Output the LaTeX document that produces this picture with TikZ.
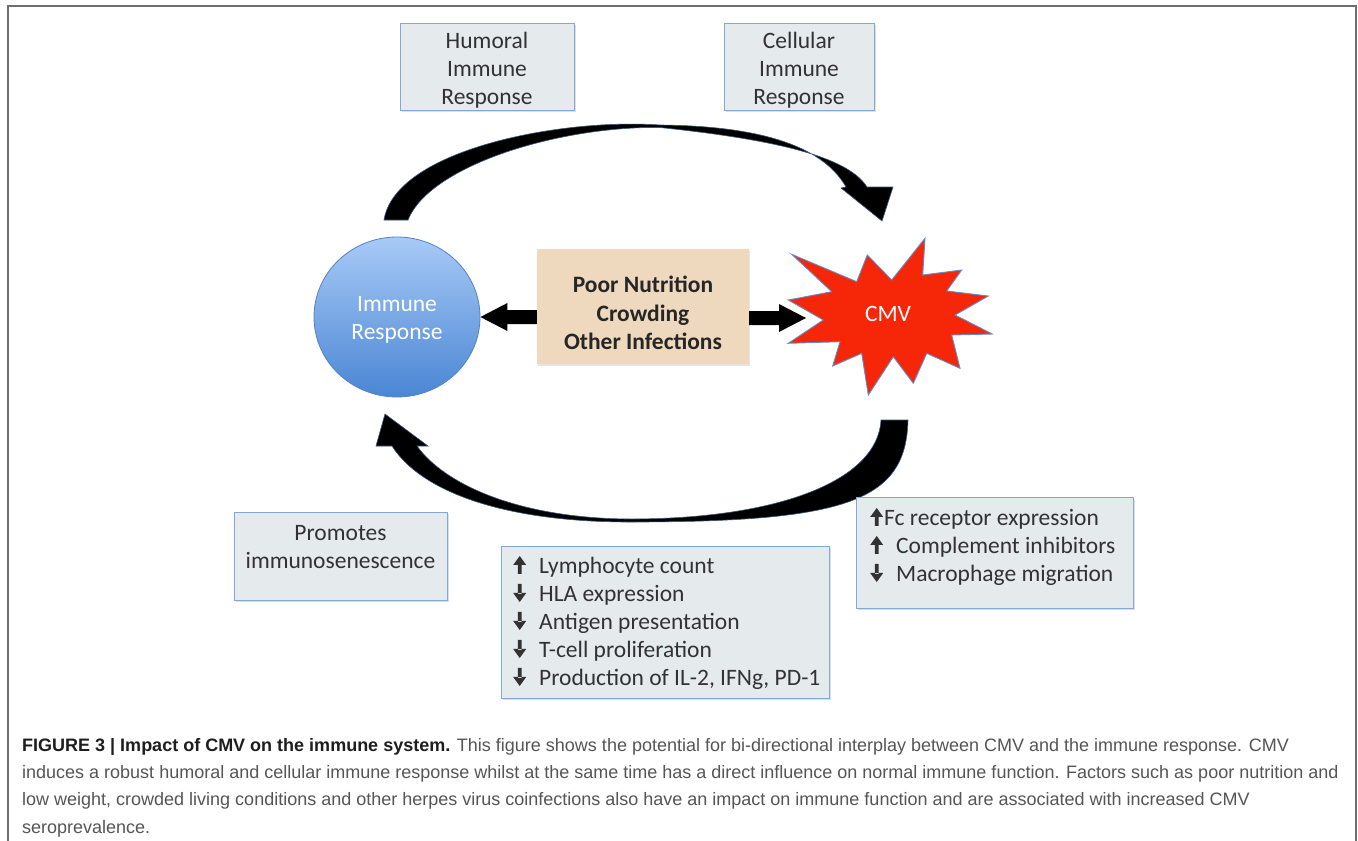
\documentclass[tikz,border=0pt]{standalone}
\usepackage{fontspec}
\usetikzlibrary{shapes.geometric,calc,shadows}
\newfontfamily\diafont{Carlito}
\newfontfamily\capfont{Liberation Sans}
\definecolor{boxfill}{RGB}{229,234,237}
\definecolor{boxborder}{RGB}{130,168,218}
\definecolor{tanfill}{RGB}{238,216,190}
\definecolor{cmvred}{RGB}{246,38,8}
\definecolor{starblue}{RGB}{95,140,205}
\definecolor{circtop}{RGB}{168,202,246}
\definecolor{circbot}{RGB}{74,134,212}
\definecolor{circborder}{RGB}{85,130,195}
\definecolor{textgray}{RGB}{50,50,50}
\definecolor{capgray}{RGB}{85,85,85}
\definecolor{capdark}{RGB}{30,30,30}
\definecolor{framegray}{RGB}{110,110,110}
\definecolor{arrowedge}{RGB}{60,85,125}
\newcommand{\upar}{\tikz[baseline=0pt,x=1pt,y=1pt]{\fill[textgray] (4.7,0) rectangle (8.3,10) (0,9) -- (6.5,18) -- (13,9) -- cycle;}}
\newcommand{\dnar}{\tikz[baseline=0pt,x=1pt,y=1pt]{\fill[textgray] (4.7,8) rectangle (8.3,18) (0,9) -- (6.5,0) -- (13,9) -- cycle;}}
\tikzset{
  infobox/.style={draw=boxborder, fill=boxfill, line width=1pt, inner sep=0pt,
    drop shadow={opacity=0.25, shadow xshift=1.5pt, shadow yshift=-2pt}},
  boxtext/.style={font=\diafont\fontsize{23.5}{28}\selectfont, text=textgray, inner sep=0pt},
  curvearrow/.style={fill=black, draw=arrowedge, line width=0.6pt},
  blockarrow/.style={fill=black},
}
\begin{document}
\begin{tikzpicture}[x=1pt,y=-1pt]
\useasboundingbox (0,0) rectangle (1358,841);
\fill[white] (0,0) rectangle (1358,841);
% frame
\draw[framegray, line width=2pt] (8,841) -- (8,6) -- (1356,6) -- (1356,841);

% top boxes
\node[infobox, minimum width=174, minimum height=87] (humoralbox) at (487,66.5) {};
\node[boxtext, align=center] (humoral) at (487,70) {Humoral\\Immune\\Response};
\node[infobox, minimum width=150, minimum height=87] (cellularbox) at (799,66.5) {};
\node[boxtext, align=center] (cellular) at (799,70) {Cellular\\Immune\\Response};

% immune response circle
\node[ellipse, minimum width=166, minimum height=160, top color=circtop, bottom color=circbot,
      draw=circborder, line width=0.8pt, inner sep=0pt] (immune) at (397,317) {};
\node[font=\diafont\fontsize{23.5}{28}\selectfont, text=white, align=center, inner sep=0pt]
      (immunetext) at (397,319.5) {Immune\\Response};

% factors box
\node[fill=tanfill, minimum width=212, minimum height=115, inner sep=0pt,
      drop shadow={opacity=0.2, shadow xshift=1pt, shadow yshift=-1.5pt}] (factorsbox) at (643,306.5) {};
\node[font=\diafont\bfseries\fontsize{23.5}{28.5}\selectfont, text=black!85, align=center, inner sep=0pt]
      (factors) at (643,313) {Poor Nutrition\\Crowding\\Other Infections};

% CMV star
\fill[cmvred, draw=starblue, line width=0.9pt]
  (925,238.3) -- (922.7,275) -- (961.7,270) -- (946.7,291) -- (988.3,296) -- (955,315)
  -- (992.3,334) -- (951.7,335) -- (960,368.3) -- (926.7,353.3) -- (913.3,383.3)
  -- (893.3,356.7) -- (868.3,395) -- (861.7,353.3) -- (832.7,366) -- (840,341.7)
  -- (788.3,343.3) -- (823.3,320) -- (788.3,300) -- (831.7,291.7) -- (791.7,254.3)
  -- (856.7,281.7) -- (867.3,255) -- (891.7,280) -- cycle;
\node[font=\diafont\fontsize{23.5}{28}\selectfont, text=white, inner sep=0pt] (cmv) at (888,314) {CMV};
\coordinate (cmvtip) at (806,318);

% straight block arrows
\fill[blockarrow] (immune.east) -- ($(immune.east)+(27,-14)$) -- ($(immune.east)+(27,-7)$)
  -- ($(immune.east -| factorsbox.west)+(0,-7)$) -- ($(immune.east -| factorsbox.west)+(0,7)$)
  -- ($(immune.east)+(27,7)$) -- ($(immune.east)+(27,14)$) -- cycle;
\fill[blockarrow] (cmvtip) -- ($(cmvtip)+(-27,-14)$) -- ($(cmvtip)+(-27,-7)$)
  -- ($(cmvtip -| factorsbox.east)+(0,-7)$) -- ($(cmvtip -| factorsbox.east)+(0,7)$)
  -- ($(cmvtip)+(-27,7)$) -- ($(cmvtip)+(-27,14)$) -- cycle;

% top curved arrow (immune -> CMV)
\coordinate (tophead) at (882,221);
\draw[curvearrow] (384,220) .. controls (395,150) and (560,118) .. (660,125)
  .. controls (770,126) and (825,150) .. (846,187) -- (841,188) -- (tophead) -- (893,187) -- (867,187)
  .. controls (850,160) and (790,141) .. (660,127.5)
  .. controls (560,126) and (430,165) .. (408,220) -- cycle;

% bottom curved arrow (CMV -> immune)
\coordinate (bothead) at (385,414);
\draw[curvearrow] (908,420) .. controls (906,500) and (850,522) .. (630,522)
  .. controls (500,522) and (420,490) .. (392,446) -- (376,446) -- (bothead) -- (428,446) -- (417,446)
  .. controls (445,485) and (520,518.5) .. (630,519)
  .. controls (780,519) and (878,480) .. (881,420) -- cycle;

% bottom boxes
\node[infobox, minimum width=213, minimum height=88] (promotesbox) at (340.5,556) {};
\node[boxtext, align=center] (promotes) at (340.5,547.5) {Promotes\\immunosenescence};

\node[infobox, minimum width=328, minimum height=152] (listbox) at (665,622) {};
\node[boxtext, align=left, anchor=west] (list) at (513,623)
  {\upar\hspace{13pt}Lymphocyte count\\\dnar\hspace{13pt}HLA expression\\\dnar\hspace{13pt}Antigen presentation\\\dnar\hspace{13pt}T-cell proliferation\\\dnar\hspace{13pt}Production of IL-2, IFNg, PD-1};

\node[infobox, minimum width=277, minimum height=111] (rightbox) at (994.5,552.5) {};
\node[boxtext, align=left, anchor=west] (rightlist) at (870,547)
  {\upar\hspace{1pt}Fc receptor expression\\\upar\hspace{13pt}Complement inhibitors\\\dnar\hspace{13pt}Macrophage migration};

% caption
\node[anchor=north west, align=left, inner sep=0pt, text=capgray,
      font=\capfont\fontsize{18}{27.3}\selectfont] (caption) at (22,738)
  {{\bfseries\color{capdark}FIGURE 3 | Impact of CMV on the immune system.} This figure shows the potential for bi-directional interplay between CMV and the immune response. CMV\\
  induces a robust humoral and cellular immune response whilst at the same time has a direct influence on normal immune function. Factors such as poor nutrition and\\
  low weight, crowded living conditions and other herpes virus coinfections also have an impact on immune function and are associated with increased CMV\\
  seroprevalence.};
\end{tikzpicture}
\end{document}
